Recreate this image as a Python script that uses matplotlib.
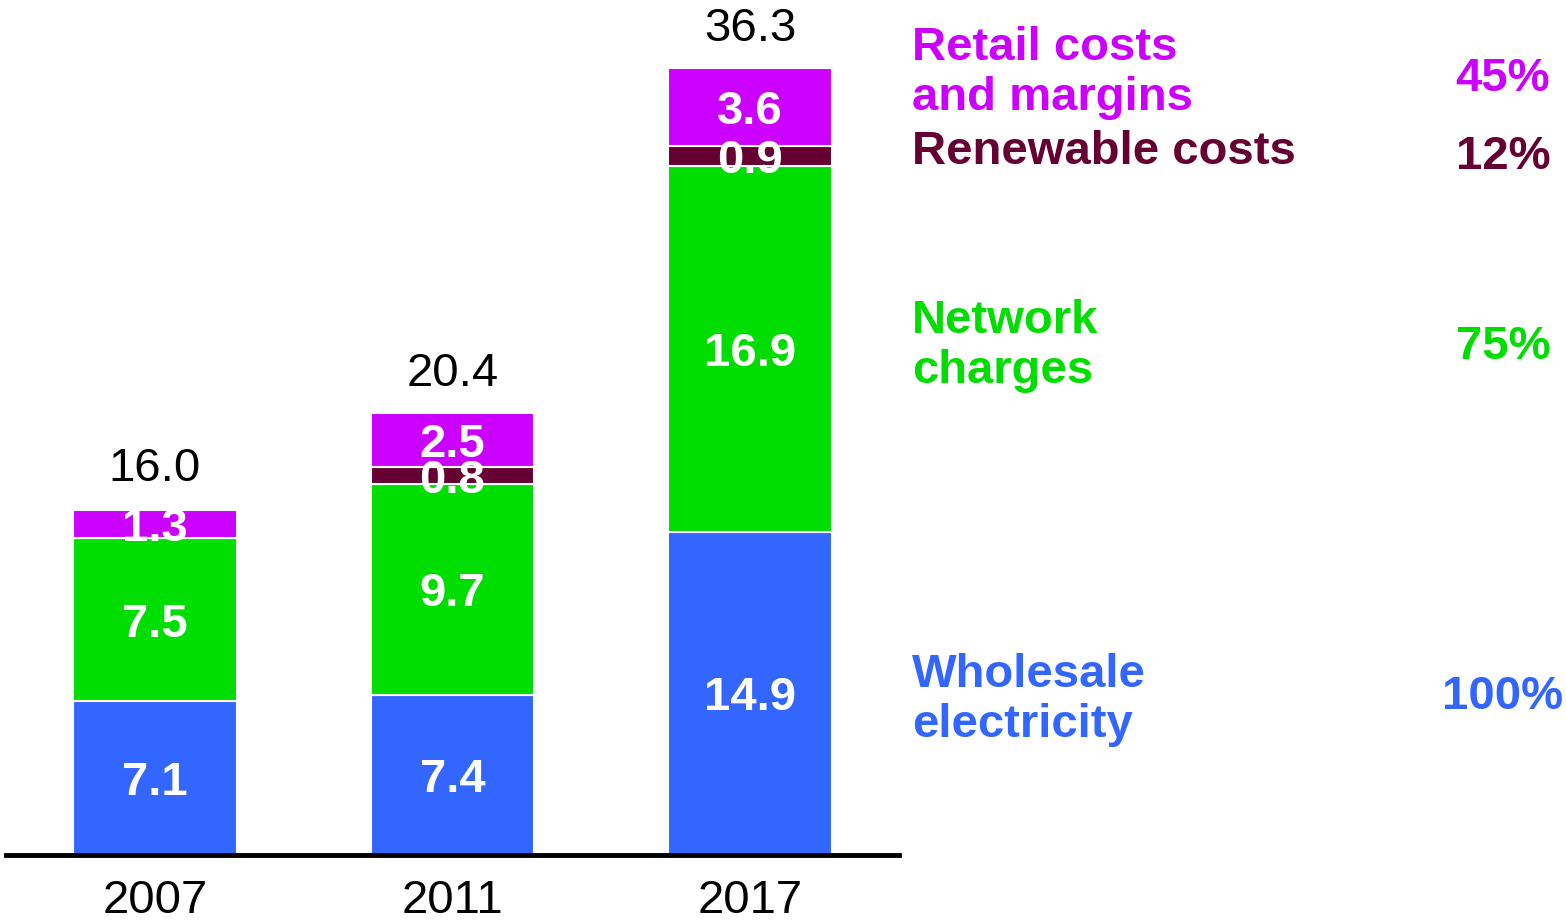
import matplotlib.pyplot as plt
import numpy as np

plt.rcParams['font.family'] = ['Liberation Sans', 'DejaVu Sans']

years = ['2007', '2011', '2017']
wholesale = [7.1, 7.4, 14.9]
network = [7.5, 9.7, 16.9]
renewable = [0.0, 0.8, 0.9]
retail = [1.3, 2.5, 3.6]
totals = [16.0, 20.4, 36.3]

segments = [wholesale, network, renewable, retail]
colors = ['#3366FF', '#00DD00', '#660033', '#CC00FF']

# right-hand key: label lines, growth figure
key_names = ['Retail costs\nand margins', 'Renewable costs', 'Network\ncharges',
             'Wholesale\nelectricity']
key_growth = ['45%', '12%', '75%', '100%']
key_colors = ['#CC00FF', '#660033', '#00DD00', '#3366FF']
key_baselines = [60, 164, 333, 687]      # pixel baseline of the first line
growth_baselines = [91, 169, 359, 709]

W, H = 1566, 923
fig = plt.figure(figsize=(W / 100, H / 100), dpi=100)
ax = fig.add_axes([6 / W, (H - 855) / H, 893 / W, 855 / H])

x = np.arange(len(years))
bottom = np.zeros(len(years))
for vals, col in zip(segments, colors):
    vals = np.array(vals)
    ax.bar(x, vals, 0.55, bottom=bottom, color=col, edgecolor='white', linewidth=1.5)
    for xi, b, v in zip(x, bottom, vals):
        if v > 0:
            ax.text(xi, b + v / 2, f'{v:.1f}', ha='center', va='center_baseline',
                    color='white', fontsize=34, fontweight='bold')
    bottom += vals

for xi, t in zip(x, totals):
    ax.annotate(f'{t:.1f}', (xi, t), xytext=(0, 19.5), textcoords='offset points',
                ha='center', va='baseline', fontsize=34, color='black')

ax.set_xlim(-0.5, 2.5)
ax.set_ylim(0, 855 / 21.68)
ax.set_xticks(x)
ax.set_xticklabels(years, fontsize=34)
ax.tick_params(axis='x', length=0, pad=17)
ax.set_yticks([])
for side in ['left', 'right', 'top']:
    ax.spines[side].set_visible(False)
ax.spines['bottom'].set_linewidth(3.5)
ax.spines['bottom'].set_color('black')

for name, col, yb in zip(key_names, key_colors, key_baselines):
    for i, line in enumerate(name.split('\n')):
        fig.text(912 / W, 1 - (yb + i * 50) / H, line, ha='left', va='baseline',
                 color=col, fontsize=34, fontweight='bold')

for g, col, yb in zip(key_growth, key_colors, growth_baselines):
    fig.text(1503 / W, 1 - yb / H, g, ha='center', va='baseline',
             color=col, fontsize=34, fontweight='bold')

fig.savefig('out.png', dpi=100)
